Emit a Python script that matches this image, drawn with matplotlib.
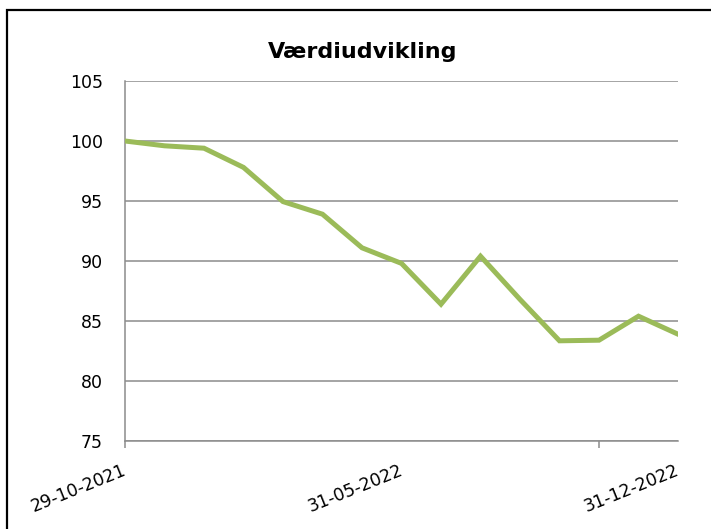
import matplotlib
matplotlib.use("Agg")
import matplotlib.pyplot as plt
import matplotlib.transforms as mtransforms
from matplotlib.patches import Rectangle

dates = ["29-10-2021", "30-11-2021", "31-12-2021", "31-01-2022", "28-02-2022",
         "31-03-2022", "30-04-2022", "31-05-2022", "30-06-2022", "31-07-2022",
         "31-08-2022", "30-09-2022", "31-10-2022", "30-11-2022", "31-12-2022"]
values = [100.0, 99.6, 99.4, 97.8, 94.95, 93.9, 91.1, 89.8, 86.4, 90.4,
          86.8, 83.35, 83.4, 85.4, 83.9]
label_idx = [0, 7, 14]
tick_idx = [0, 12]
yticks = [75, 80, 85, 90, 95, 100, 105]

fig = plt.figure(figsize=(7.11, 5.29), dpi=100)
fig.patches.append(Rectangle((7/711, -0.1), 1.2, 1 - 10/529 + 0.1, transform=fig.transFigure,
                             fill=False, edgecolor="black", linewidth=1.6))
ax = fig.add_axes([125/711, 1 - 441/529, (678-125)/711, (441-81)/529])

x = list(range(len(values)))
ax.plot(x, values, color="#9BBB59", linewidth=3.6, solid_joinstyle="miter", zorder=3)

ax.set_xlim(0, len(values) - 1)
ax.set_ylim(75, 105)
ax.set_yticks(yticks)
ax.set_yticklabels([str(v) for v in yticks], fontsize=12.5, family="DejaVu Sans")
ax.tick_params(axis="y", length=0, pad=16)
ax.yaxis.grid(True, color="#8C8C8C", linewidth=1.1)
ax.set_axisbelow(True)

ax.set_xticks(tick_idx)
ax.set_xticklabels([])
ax.tick_params(axis="x", length=5, color="#8C8C8C", width=1.1, direction="out")
offset = mtransforms.ScaledTranslation(-3/100, -20/100, fig.dpi_scale_trans)
for i in label_idx:
    ax.text(i, 75, dates[i], transform=ax.transData + offset, rotation=22,
            rotation_mode="anchor", ha="right", va="top", fontsize=12.5,
            family="DejaVu Sans")

for s in ["top", "right"]:
    ax.spines[s].set_visible(False)
for s in ["left", "bottom"]:
    ax.spines[s].set_color("#8C8C8C")
    ax.spines[s].set_linewidth(1.1)

fig.text(363/711, 1 - 58/529, "Værdiudvikling", ha="center", va="baseline",
         fontsize=16, fontweight="bold", family="DejaVu Sans")

fig.savefig("out.png", dpi=100)
